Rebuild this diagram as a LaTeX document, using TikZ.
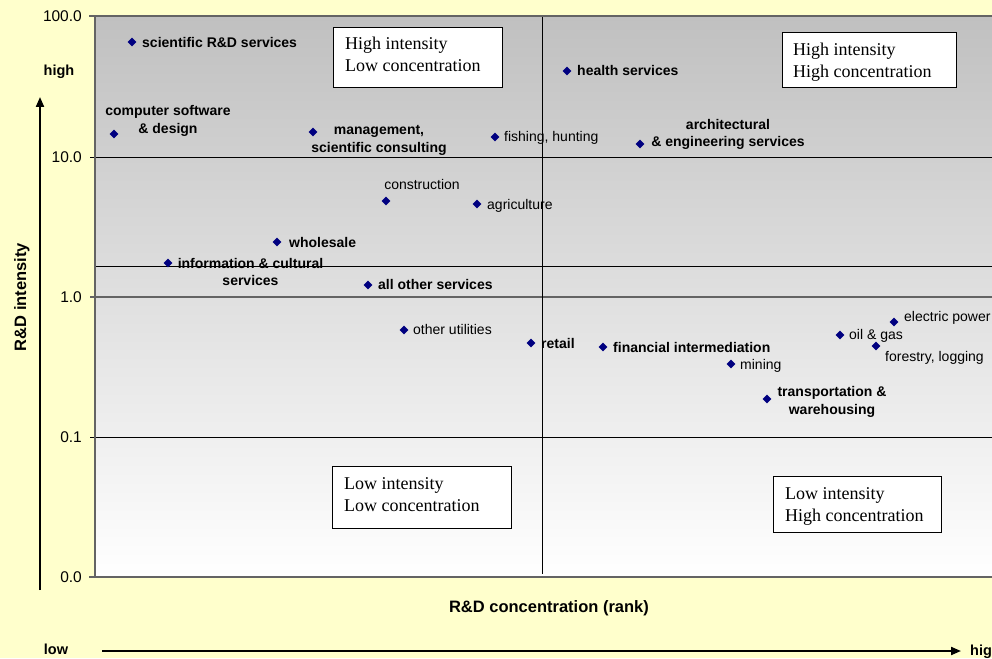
\documentclass[tikz,border=0pt]{standalone}
\usepackage{fontspec}
\setmainfont{Liberation Sans}
\newfontfamily\tnr{Liberation Serif}
\usetikzlibrary{shapes.geometric,arrows.meta}
\definecolor{bgyellow}{RGB}{255,255,204}
\definecolor{topgray}{RGB}{192,192,192}
\definecolor{bordergray}{RGB}{100,100,100}
\definecolor{navymk}{RGB}{0,0,128}
\tikzset{
  lbl/.style={font=\fontsize{14}{17.5}\selectfont, inner sep=0pt, text height=10pt, text depth=0pt},
  blbl/.style={lbl, font=\fontsize{14}{17.5}\selectfont\bfseries},
  mk/.style={diamond, fill=navymk, minimum size=9pt, inner sep=0pt},
  ticklbl/.style={font=\fontsize{15.5}{18}\selectfont, inner sep=0pt, text height=11pt, text depth=0pt, anchor=east},
  axtitle/.style={font=\fontsize{16.5}{19}\selectfont\bfseries, inner sep=0pt, text height=12pt, text depth=0pt},
  hilo/.style={font=\fontsize{14.5}{17}\selectfont\bfseries, inner sep=0pt, text height=10.5pt, text depth=0pt},
  qbox/.style={draw=black, line width=0.9pt, fill=white, inner sep=0pt},
  qtext/.style={font=\tnr\fontsize{18}{22}\selectfont, inner sep=0pt, align=left, text height=12pt, text depth=0pt, anchor=west},
  axarrow/.style={line width=2pt, -{Triangle[length=10pt,width=8pt]}},
  grid/.style={line width=1pt, black},
  tick/.style={line width=1.5pt, bordergray}
}
\begin{document}
\begin{tikzpicture}[x=1pt,y=-1pt]
\useasboundingbox (0,0) rectangle (992,658);
\fill[bgyellow] (0,0) rectangle (992,658);
% plot area
\shade[top color=topgray, bottom color=white] (95,16) rectangle (995,577);
\draw[grid] (90,157) -- (995,157);
\draw[grid] (90,437) -- (995,437);
\draw[bordergray, line width=1.5pt] (90,297) -- (995,297);
\draw[grid] (95,266) -- (995,266);
\draw[grid] (542,16) -- (542,574);
\draw[bordergray, line width=2pt] (995,16) -- (95,16) -- (95,577) -- (995,577);
\draw[tick] (89,16) -- (95,16);
\draw[tick] (89,577) -- (95,577);
% tick labels
\node[ticklbl] (t100) at (82,16) {100.0};
\node[ticklbl] (t10) at (82,157) {10.0};
\node[ticklbl] (t1) at (82,297) {1.0};
\node[ticklbl] (t01) at (82,437) {0.1};
\node[ticklbl] (t00) at (82,577) {0.0};
% axis titles
\node[axtitle, rotate=90] (ytitle) at (20,297) {R\&D intensity};
\node[axtitle] (xtitle) at (549,606) {R\&D concentration (rank)};
\node[hilo] (yhigh) at (59,70) {high};
\node[hilo] (xlow) at (56,649) {low};
\node[hilo, anchor=west] (xhigh) at (970,650) {high};
% axis arrows
\coordinate (ya0) at (40,590);
\coordinate (ya1) at (40,97);
\draw[axarrow] (ya0) -- (ya1);
\coordinate (xa0) at (102,651);
\coordinate (xa1) at (961,651);
\draw[axarrow] (xa0) -- (xa1);
% quadrant boxes
\node[qbox, minimum width=169pt, minimum height=60pt] (q1) at (417.5,57) {};
\node[qtext] (q1t) at (345,66) {High intensity\\Low concentration};
\node[qbox, minimum width=174pt, minimum height=55pt] (q2) at (869,59.5) {};
\node[qtext] (q2t) at (793,71.5) {High intensity\\High concentration};
\node[qbox, minimum width=179pt, minimum height=62pt] (q3) at (421.5,497) {};
\node[qtext] (q3t) at (344,505.5) {Low intensity\\Low concentration};
\node[qbox, minimum width=168pt, minimum height=56pt] (q4) at (857,504) {};
\node[qtext] (q4t) at (785,515) {Low intensity\\High concentration};
% data points
\node[mk] (m1) at (132,42) {};
\node[blbl, anchor=west] (l1) at (142,43) {scientific R\&D services};
\node[mk] (m2) at (114,134) {};
\node[blbl, align=center] (l2) at (168,128) {computer software\\\& design};
\node[mk] (m3) at (313,132) {};
\node[blbl, align=center] (l3) at (379,147) {management,\\scientific consulting};
\node[mk] (m4) at (495,137) {};
\node[lbl, anchor=west] (l4) at (504,136) {fishing, hunting};
\node[mk] (m5) at (567,71) {};
\node[blbl, anchor=west] (l5) at (577,71) {health services};
\node[mk] (m6) at (640,144) {};
\node[blbl, align=center] (l6) at (728,141.5) {architectural\\\& engineering services};
\node[mk] (m7) at (386,201) {};
\node[lbl] (l7) at (422,184) {construction};
\node[mk] (m8) at (477,204) {};
\node[lbl, anchor=west] (l8) at (487,204) {agriculture};
\node[mk] (m9) at (277,242) {};
\node[blbl, anchor=west] (l9) at (289,242) {wholesale};
\node[mk] (m10) at (168,263) {};
\node[blbl, align=center] (l10) at (250.5,280.5) {information \& cultural\\services};
\node[mk] (m11) at (368,285) {};
\node[blbl, anchor=west] (l11) at (378,284) {all other services};
\node[mk] (m12) at (404,330) {};
\node[lbl, anchor=west] (l12) at (413,329) {other utilities};
\node[mk] (m13) at (531,343) {};
\node[blbl, anchor=west] (l13) at (541,343) {retail};
\node[mk] (m14) at (603,347) {};
\node[blbl, anchor=west] (l14) at (613,347) {financial intermediation};
\node[mk] (m15) at (731,364) {};
\node[lbl, anchor=west] (l15) at (740,364) {mining};
\node[mk] (m16) at (767,399) {};
\node[blbl, align=center] (l16) at (832,409) {transportation \&\\warehousing};
\node[mk] (m17) at (840,335) {};
\node[lbl, anchor=west] (l17) at (849,334) {oil \& gas};
\node[mk] (m18) at (894,322) {};
\node[lbl, anchor=west] (l18) at (904,316) {electric power};
\node[mk] (m19) at (876,346) {};
\node[lbl, anchor=west] (l19) at (885,356) {forestry, logging};
\end{tikzpicture}
\end{document}
